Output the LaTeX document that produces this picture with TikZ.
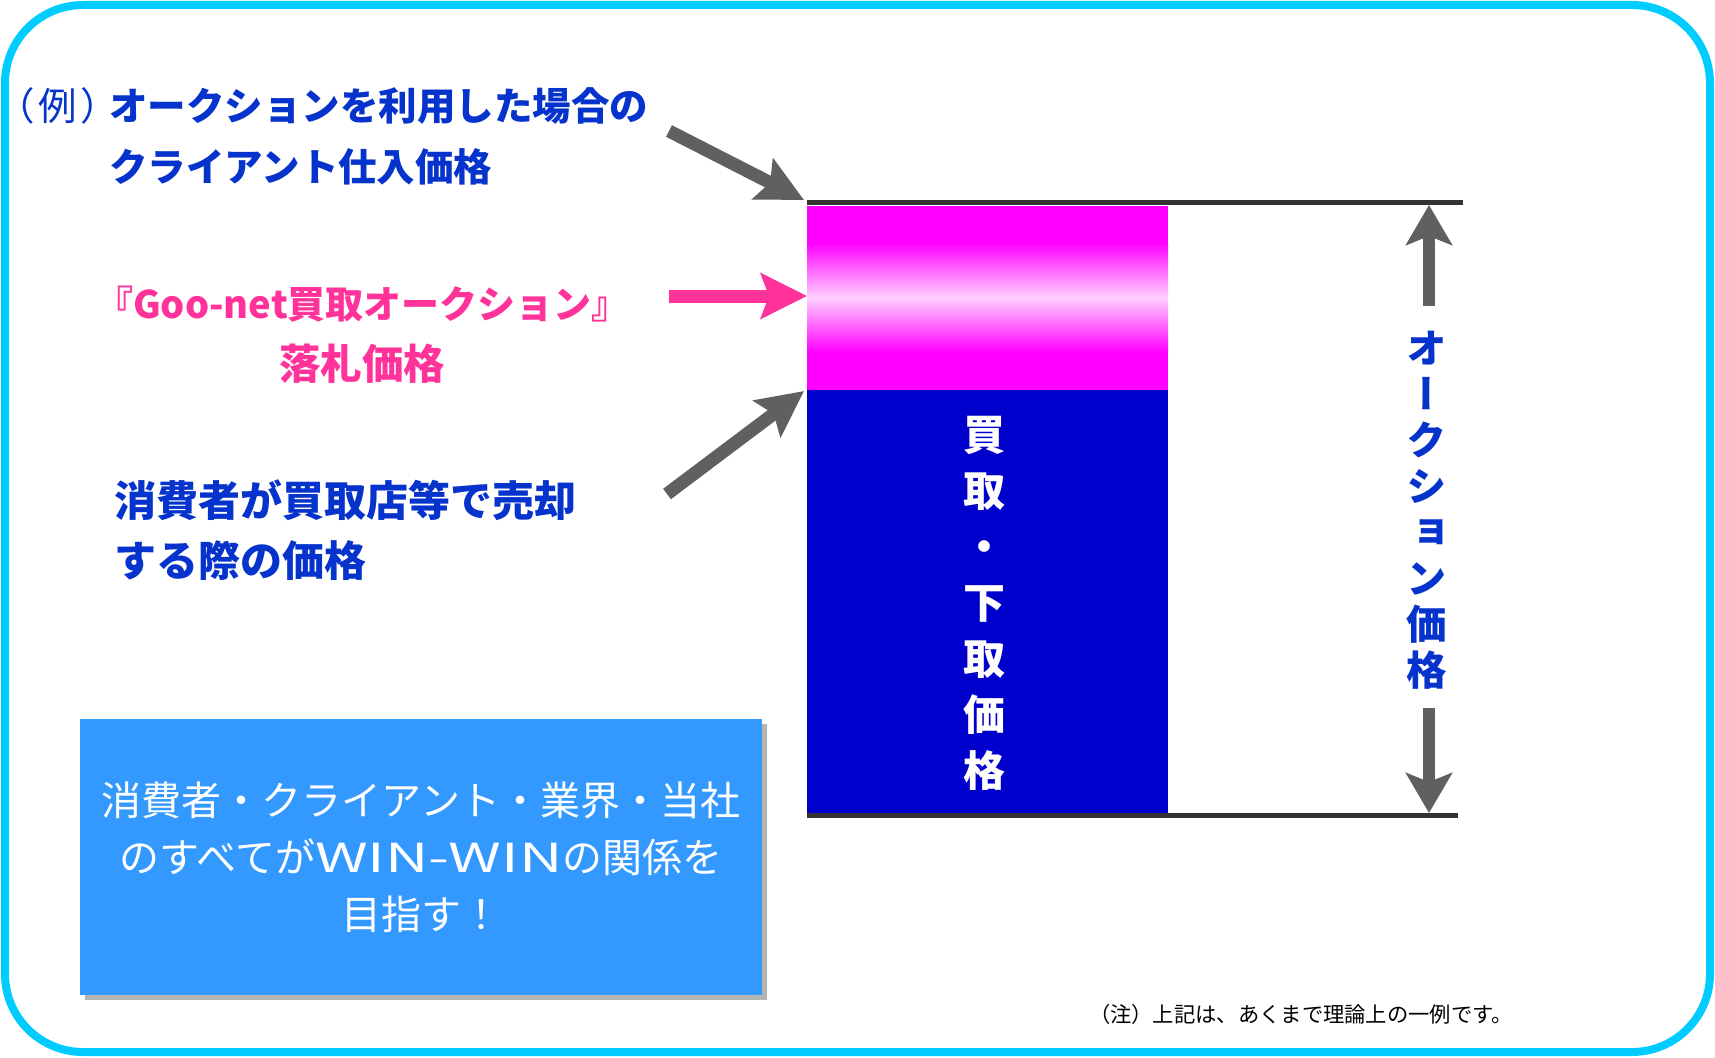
\documentclass[tikz,border=0pt]{standalone}
\usepackage{fontspec}
\setmainfont{Noto Sans CJK JP}
\newfontfamily\cjkvert[RawFeature=+vert]{Noto Sans CJK JP}
\newfontfamily\cjkprop[RawFeature=+palt]{Noto Sans CJK JP}
\usetikzlibrary{arrows.meta,shadows}
\definecolor{framecyan}{RGB}{0,204,255}
\definecolor{titleblue}{RGB}{5,51,204}
\definecolor{hotpink}{RGB}{255,51,153}
\definecolor{arrowgray}{RGB}{96,96,96}
\definecolor{barmag}{RGB}{255,0,255}
\definecolor{barlight}{RGB}{255,208,255}
\definecolor{barblue}{RGB}{0,0,204}
\definecolor{boxblue}{RGB}{51,153,255}
\definecolor{rulecol}{RGB}{51,51,51}
\definecolor{shadowgray}{RGB}{180,180,180}
\tikzset{
  lbl/.style={inner sep=0pt, outer sep=0pt},
  bluelbl/.style={lbl, text=titleblue, font=\bfseries\fontsize{38.5}{44}\selectfont},
  pinklbl/.style={lbl, text=hotpink, font=\bfseries\fontsize{38}{44}\selectfont},
  blockarrow/.style={draw=arrowgray, line width=13pt, -{Stealth[length=46pt,width=45pt,inset=8pt]}},
  pinkarrow/.style={blockarrow, draw=hotpink},
  dimarrow/.style={draw=arrowgray, line width=12pt, -{Stealth[length=40pt,width=46pt,inset=9pt]}},
  rulestyle/.style={draw=rulecol, line width=5pt},
  bar/.style={inner sep=0pt, outer sep=0pt, minimum width=361pt, draw=none},
}
\begin{document}
\begin{tikzpicture}[x=1pt,y=-1pt]
\useasboundingbox (0,0) rectangle (1715,1057);
% frame
\draw[framecyan, line width=8pt, rounded corners=78pt] (5,5) rectangle (1710,1052);
% bars
\node[bar, fill=barmag, minimum height=184pt] (pinkbar) at (987.5,298) {};
\fill[top color=barmag, bottom color=barmag, middle color=barlight] (807,243) rectangle (1168,352);
\node[bar, fill=barblue, minimum height=425pt] (bluebar) at (987.5,602.5) {};
% rules
\coordinate (r1a) at (807,202); \coordinate (r1b) at (1463,202);
\coordinate (r2a) at (807,815); \coordinate (r2b) at (1458,815);
\draw[rulestyle] (r1a) -- (r1b);
\draw[rulestyle] (r2a) -- (r2b);
% vertical bar text
\node[lbl, text=white, align=center, font=\bfseries\fontsize{42}{56}\selectfont] (bartext) at (984,603)
  {買\\取\\・\\下\\取\\価\\格};
% dimension
\node[lbl, text=titleblue, align=center, font=\cjkvert\bfseries\fontsize{40.5}{46}\selectfont] (dimtext) at (1427,510)
  {オ\\ー\\ク\\シ\\ョ\\ン\\価\\格};
\coordinate (d1s) at (1429,306); \coordinate (d1e) at (1429,205);
\coordinate (d2s) at (1429,708); \coordinate (d2e) at (1429,813);
\draw[dimarrow] (d1s) -- (d1e);
\draw[dimarrow] (d2s) -- (d2e);
% left labels
\node[lbl, text=titleblue, anchor=west, font=\cjkprop\fontsize{38.5}{44}\selectfont] (t0) at (14,106) {（\hspace{5pt}例\hspace{5pt}）};
\node[bluelbl, anchor=west] (t1) at (109,106) {オークションを利用した場合の};
\node[bluelbl, anchor=west] (t2) at (109,167) {クライアント仕入価格};
\node[pinklbl, anchor=west] (p1) at (95,304) {『Goo-net買取オークション』};
\node[pinklbl, font=\bfseries\fontsize{41.5}{46}\selectfont] (p2) at (362,364) {落札価格};
\node[bluelbl, anchor=west, font=\bfseries\fontsize{42}{46}\selectfont] (c1) at (114,500) {消費者が買取店等で売却};
\node[bluelbl, anchor=west, font=\bfseries\fontsize{42}{46}\selectfont] (c2) at (114,561) {する際の価格};
% left arrows
\coordinate (a1s) at (669,131); \coordinate (a1e) at (804,200);
\coordinate (a2s) at (669,296); \coordinate (a2e) at (807,296);
\coordinate (a3s) at (667,494); \coordinate (a3e) at (804,391);
\draw[blockarrow] (a1s) -- (a1e);
\draw[pinkarrow] (a2s) -- (a2e);
\draw[blockarrow] (a3s) -- (a3e);
% message box
\node[fill=boxblue, minimum width=682pt, minimum height=276pt, inner sep=0pt,
      drop shadow={shadow xshift=5pt, shadow yshift=-5pt, fill=shadowgray, opacity=1},
      text=white, align=center, font=\fontsize{40}{57}\selectfont] (msg) at (421,857)
  {消費者・クライアント・業界・当社\\のすべてが\scalebox{1.5}[1]{WIN-WIN}の関係を\\目指す！};
% note
\node[lbl, text=black, font=\fontsize{21.3}{24}\selectfont] (note) at (1301,1014) {（注）上記は、あくまで理論上の一例です。};
\end{tikzpicture}
\end{document}
